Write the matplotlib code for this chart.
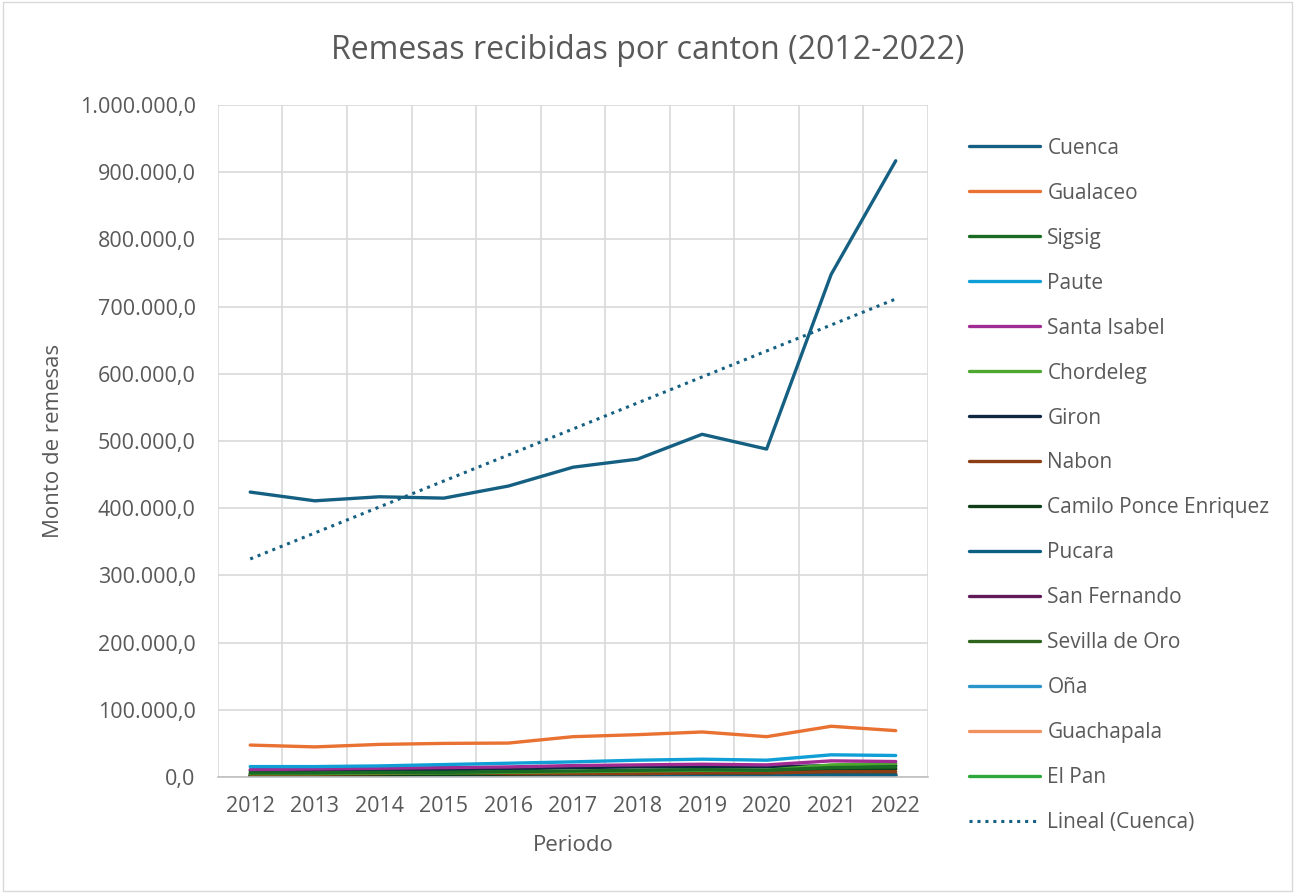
import numpy as np
import matplotlib
matplotlib.use("Agg")
from matplotlib import pyplot as plt
from matplotlib.ticker import FuncFormatter, MultipleLocator

# datos (miles de USD)
years = [2012, 2013, 2014, 2015, 2016, 2017, 2018, 2019, 2020, 2021, 2022]
cuenca = [424, 411, 417, 415, 433, 461, 473, 510, 488, 748, 917]
gualaceo = [47.5, 44.8, 48.5, 50, 50.5, 60, 63, 67, 60, 75.5, 69]
sigsig = [6, 6, 7, 7, 8, 9, 10, 11, 10, 14, 15]
paute = [15.5, 15.5, 16.5, 18.5, 20.5, 22.5, 25, 26.5, 25, 33, 32]
santa_isabel = [11, 12, 13, 14, 15, 17, 18, 19, 18, 24, 23]
chordeleg = [5, 5, 6, 6, 7, 8, 9, 10, 10, 18, 20]
giron = [9.5, 10, 10.5, 11, 12, 14, 15, 15, 15, 17, 17]
nabon = [4, 4, 5, 7, 5, 5, 5, 6, 6, 8, 8]
camilo = [3, 3, 3, 4, 4, 5, 5, 6, 6, 12, 12]
pucara = [1.5, 1.5, 1.5, 1.8, 2, 2, 2.2, 2.5, 2.5, 3, 3]
san_fernando = [1.2, 1.2, 1.3, 1.4, 1.5, 1.6, 1.8, 2, 2, 2.5, 2.5]
sevilla = [2, 2, 2.2, 2.4, 2.5, 3, 3.2, 3.5, 3.5, 4.5, 4.5]
ona = [1, 1, 1.1, 1.2, 1.3, 1.5, 1.6, 1.8, 1.8, 2.2, 2.2]
guachapala = [1.5, 1.5, 1.6, 1.8, 2, 2.2, 2.4, 2.6, 2.6, 3.2, 3.2]
el_pan = [0.8, 0.8, 0.9, 1, 1, 1.1, 1.2, 1.3, 1.3, 1.6, 1.6]

series = [
    ("Cuenca", cuenca, "#156082"),
    ("Gualaceo", gualaceo, "#E97132"),
    ("Sigsig", sigsig, "#196B24"),
    ("Paute", paute, "#0F9ED5"),
    ("Santa Isabel", santa_isabel, "#A02B93"),
    ("Chordeleg", chordeleg, "#4EA72E"),
    ("Giron", giron, "#0E2841"),
    ("Nabon", nabon, "#8C3E14"),
    ("Camilo Ponce Enriquez", camilo, "#0F3D17"),
    ("Pucara", pucara, "#0C5F80"),
    ("San Fernando", san_fernando, "#601A58"),
    ("Sevilla de Oro", sevilla, "#2F641C"),
    ("Oña", ona, "#2A95CB"),
    ("Guachapala", guachapala, "#F0915E"),
    ("El Pan", el_pan, "#2EA83A"),
]

plt.rcParams['font.family'] = ['Open Sans', 'DejaVu Sans']
txt = '#595959'

fig = plt.figure(figsize=(12.95, 8.93), dpi=100)
ax = fig.add_axes([0.1683, 0.1299, 0.5483, 0.7525])

x = np.arange(len(years))
# orden de dibujo: Cuenca y Gualaceo encima
for name, vals, col in series[::-1]:
    ax.plot(x, np.array(vals) * 1000, color=col, lw=2.4, label=name,
            solid_capstyle='round')

# tendencia lineal de Cuenca
coef = np.polyfit(x, np.array(cuenca) * 1000, 1)
ax.plot(x, np.polyval(coef, x), color="#156082", lw=2.2, ls=(0, (1, 1.6)),
        label="Lineal (Cuenca)")

ax.set_xlim(-0.5, len(years) - 0.5)
ax.set_ylim(0, 1000000)
ax.yaxis.set_major_locator(MultipleLocator(100000))
ax.yaxis.set_major_formatter(FuncFormatter(
    lambda v, p: f"{v:,.1f}".replace(",", "X").replace(".", ",").replace("X", ".")))
ax.set_xticks(x)
ax.set_xticklabels([str(y) for y in years])
ax.set_xticks(np.arange(-0.5, len(years), 1), minor=True)
ax.grid(True, axis='y', which='major', color='#D9D9D9', lw=1.2)
ax.grid(True, axis='x', which='minor', color='#D9D9D9', lw=1.2)
ax.set_axisbelow(True)
ax.tick_params(axis='both', which='both', length=0, labelsize=15.5,
               labelcolor=txt)
ax.tick_params(axis='x', pad=14)
ax.tick_params(axis='y', pad=16)
for s in ['top', 'right', 'left']:
    ax.spines[s].set_visible(False)
ax.spines['bottom'].set_color('#BFBFBF')
ax.spines['bottom'].set_linewidth(1.2)

ax.set_xlabel("Periodo", fontsize=16, color=txt, labelpad=13)
ax.set_ylabel("Monto de remesas", fontsize=16, color=txt, labelpad=11)
fig.text(0.5, 0.943, "Remesas recibidas por canton (2012-2022)", ha='center',
         va='center', fontsize=23, color=txt)

# leyenda en el orden original
h, l = ax.get_legend_handles_labels()
order = [l.index(n) for n, _, _ in series] + [l.index("Lineal (Cuenca)")]
leg = fig.legend([h[i] for i in order], [l[i] for i in order],
                 loc='upper left', bbox_to_anchor=(0.734, 0.8667),
                 frameon=False, fontsize=15, labelspacing=1.15,
                 handlelength=3.4, handletextpad=0.35)
for t in leg.get_texts():
    t.set_color(txt)

# borde del grafico
fig.patches.append(plt.Rectangle((0.002, 0.002), 0.996, 0.996, transform=fig.transFigure,
                                 fill=False, ec='#D9D9D9', lw=1))

fig.savefig("out.png", dpi=100)
